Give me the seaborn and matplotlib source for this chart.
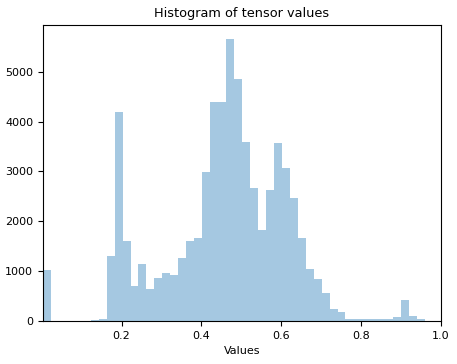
import numpy as np
import pandas as pd
import matplotlib
matplotlib.use('Agg')
import matplotlib.pyplot as plt
import seaborn as sns

# bin edges of the histogram (50 bins between data min and max)
x_min = 0.003
x_max = 1.0
n_bins = 50

# counts per bin
counts = [
    1030, 0, 0, 0, 0, 0, 20, 45, 1300, 4200,
    1600, 700, 1140, 640, 860, 960, 920, 1260, 1600, 1660,
    2980, 4400, 4400, 5650, 4850, 3580, 2660, 1820, 2620, 3560,
    3060, 2460, 1660, 1040, 840, 560, 240, 180, 40, 40,
    40, 40, 40, 40, 80, 420, 100, 40, 0, 0,
]

edges = np.linspace(x_min, x_max, n_bins + 1)
centers = (edges[:-1] + edges[1:]) / 2
df = pd.DataFrame({'value': centers, 'count': counts})

plt.rcParams['font.family'] = ['DejaVu Sans']
plt.rcParams['font.size'] = 8

fig = plt.figure(figsize=(4.57, 3.64), dpi=100)
ax = fig.add_axes([0.094, 0.118, 0.871, 0.813])

# 直方图，按读出的计数加权
sns.histplot(
    data=df,
    x='value',
    weights='count',
    bins=list(edges),
    color='#1f77b4',
    alpha=0.4,
    linewidth=0,
    ax=ax
)

ax.set_xlim(x_min, x_max)
ax.set_xticks([0.2, 0.4, 0.6, 0.8, 1.0])
ax.set_ylabel('')
ax.set_xlabel('Values')
ax.set_title('Histogram of tensor values', fontsize=9.3)

plt.savefig('out.png', dpi=100)
